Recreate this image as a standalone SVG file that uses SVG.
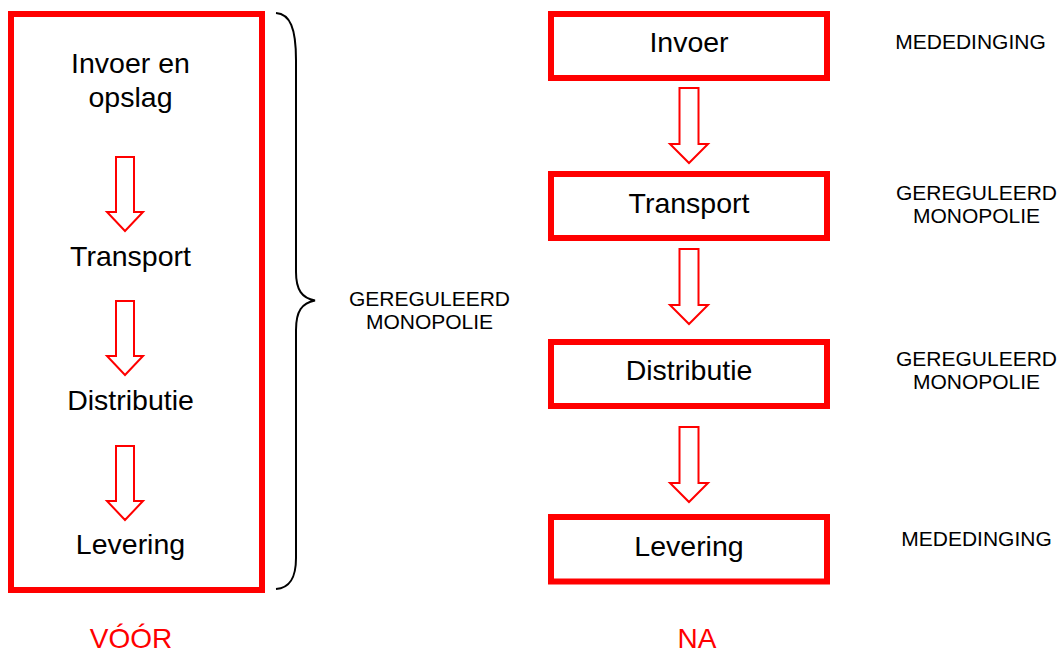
<svg xmlns="http://www.w3.org/2000/svg" width="1062" height="652" viewBox="0 0 1062 652">
  <style>
    .box { fill: #ffffff; stroke: #ff0000; stroke-width: 6; }
    .arrow { fill: #ffffff; stroke: #ff0000; stroke-width: 2; stroke-linejoin: miter; }
    .node { font-family: "Liberation Sans", Arial, sans-serif; font-size: 28.5px; fill: #000000; text-anchor: middle; }
    .label { font-family: "Liberation Sans", Arial, sans-serif; font-size: 21px; fill: #000000; text-anchor: middle; }
    .title { font-family: "Liberation Sans", Arial, sans-serif; font-size: 28px; fill: #ff0000; text-anchor: middle; }
    .brace { fill: none; stroke: #000000; stroke-width: 2; }
  </style>
  <defs>
    <!-- hollow down-arrow, 75 tall, drawn from its top centre -->
    <path id="downArrow" d="M-9.5,0 L9.5,0 L9.5,56 L19,56 L0,75 L-19,56 L-9.5,56 Z"/>
    <path id="downArrowSmall" d="M-9,0 L9,0 L9,55 L18,55 L0,74 L-18,55 L-9,55 Z"/>
  </defs>

  <rect width="1062" height="652" fill="#ffffff"/>

  <!-- Before: one integrated chain -->
  <g id="voor-chain">
    <rect class="box" x="11" y="14" width="251" height="576"/>
    <text class="node" x="130.5" y="73">Invoer en</text>
    <text class="node" x="130.5" y="107">opslag</text>
    <text class="node" x="130.5" y="266">Transport</text>
    <text class="node" x="130.5" y="410">Distributie</text>
    <text class="node" x="130.5" y="554">Levering</text>
  </g>

  <g id="voor-brace">
    <path class="brace" d="M276,13 C290,14 296,28 296,60 L296,272 C296,290 302,298 315,300.5 C302,303 296,311 296,330 L296,558 C296,578 290,588 276,589"/>
    <text class="label" x="429.5" y="306">GEREGULEERD</text>
    <text class="label" x="429.5" y="329">MONOPOLIE</text>
  </g>

  <text id="voor-title" class="title" x="131" y="648">VÓÓR</text>

  <!-- After: separate stages -->
  <g id="invoer">
    <rect class="box" x="551" y="14" width="276" height="64"/>
    <text class="node" x="689" y="52">Invoer</text>
  </g>
  <g id="transport">
    <rect class="box" x="551" y="174" width="276" height="64"/>
    <text class="node" x="689" y="212.5">Transport</text>
  </g>
  <g id="distributie">
    <rect class="box" x="551" y="342" width="276" height="64"/>
    <text class="node" x="689" y="380">Distributie</text>
  </g>
  <g id="levering">
    <rect class="box" x="551" y="517" width="276" height="64.5"/>
    <text class="node" x="689" y="556">Levering</text>
  </g>

  <g id="na-labels">
    <text class="label" x="970.5" y="49">MEDEDINGING</text>
    <text class="label" x="976.5" y="200">GEREGULEERD</text>
    <text class="label" x="976.5" y="223">MONOPOLIE</text>
    <text class="label" x="976.5" y="366">GEREGULEERD</text>
    <text class="label" x="976.5" y="389">MONOPOLIE</text>
    <text class="label" x="976.5" y="546">MEDEDINGING</text>
  </g>

  <text id="na-title" class="title" x="697" y="648">NA</text>

  <!-- connectors -->
  <g id="connectors">
    <use href="#downArrowSmall" class="arrow" x="125" y="157"/>
    <use href="#downArrowSmall" class="arrow" x="125" y="301"/>
    <use href="#downArrowSmall" class="arrow" x="125" y="446"/>
    <use href="#downArrow" class="arrow" x="689" y="88"/>
    <use href="#downArrow" class="arrow" x="689" y="249"/>
    <use href="#downArrow" class="arrow" x="689" y="427"/>
  </g>
</svg>
